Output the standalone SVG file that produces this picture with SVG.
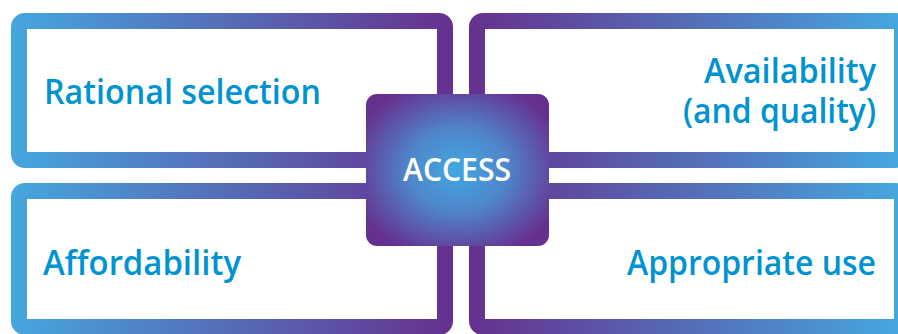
<svg xmlns="http://www.w3.org/2000/svg" width="898" height="334" viewBox="0 0 898 334">
  <defs>
    <linearGradient id="gL" gradientUnits="userSpaceOnUse" x1="11" y1="0" x2="453" y2="0">
      <stop offset="0" stop-color="#45A7DE"/>
      <stop offset="1" stop-color="#66308F"/>
    </linearGradient>
    <linearGradient id="gR" gradientUnits="userSpaceOnUse" x1="469" y1="0" x2="898" y2="0">
      <stop offset="0" stop-color="#66308F"/>
      <stop offset="1" stop-color="#45A7DE"/>
    </linearGradient>
    <radialGradient id="gC" cx="0.5" cy="0.5" r="0.6">
      <stop offset="0" stop-color="#41A8E0"/>
      <stop offset="0.45" stop-color="#4F86CA"/>
      <stop offset="1" stop-color="#66308F"/>
    </radialGradient>
    <style>
      .panel { fill: #FFFFFF; stroke-width: 16; }
      .lbl { font-family: "Open Sans", "Noto Sans", sans-serif; font-size: 34px; font-weight: 600; fill: #0093D2; }
      .ctr { font-family: "Open Sans", "Noto Sans", sans-serif; font-size: 32px; font-weight: 600; fill: #FFFFFF; }
    </style>
  </defs>
  <rect width="898" height="334" fill="#FFFFFF"/>

  <g id="rational-selection">
    <rect class="panel" x="19" y="21" width="426" height="139" rx="6" stroke="url(#gL)"/>
    <text class="lbl" x="44" y="104" textLength="277" lengthAdjust="spacingAndGlyphs">Rational selection</text>
  </g>

  <g id="availability">
    <rect class="panel" x="477" y="21" width="425" height="139" rx="6" stroke="url(#gR)"/>
    <text class="lbl" x="876" y="83" text-anchor="end" textLength="172" lengthAdjust="spacingAndGlyphs">Availability</text>
    <text class="lbl" x="876" y="123" text-anchor="end" textLength="193" lengthAdjust="spacingAndGlyphs">(and quality)</text>
  </g>

  <g id="affordability">
    <rect class="panel" x="19" y="191" width="426" height="136" rx="6" stroke="url(#gL)"/>
    <text class="lbl" x="43" y="275" textLength="198" lengthAdjust="spacingAndGlyphs">Affordability</text>
  </g>

  <g id="appropriate-use">
    <rect class="panel" x="477" y="191" width="425" height="136" rx="6" stroke="url(#gR)"/>
    <text class="lbl" x="876" y="275" text-anchor="end" textLength="249" lengthAdjust="spacingAndGlyphs">Appropriate use</text>
  </g>

  <g id="access">
    <rect x="366" y="94" width="183" height="152" rx="11" fill="url(#gC)"/>
    <text class="ctr" x="403" y="181" textLength="108" lengthAdjust="spacingAndGlyphs">ACCESS</text>
  </g>
</svg>
